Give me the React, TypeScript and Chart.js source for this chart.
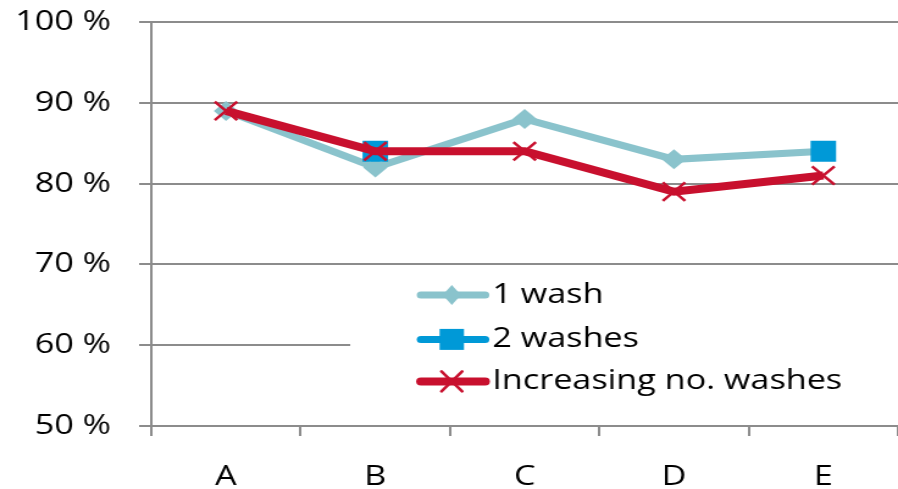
import React, { useEffect, useRef } from "react";
import { Chart, registerables } from "chart.js";

Chart.register(...registerables);

const categories = ["A", "B", "C", "D", "E"];
const oneWash = [89, 82, 88, 83, 84];
const twoWashes = [null, 84, null, null, 84];
const increasingWashes = [89, 84, 84, 79, 81];
const yTickValues = [50, 60, 70, 80, 90, 100];
const seriesNames = ["1 wash", "2 washes", "Increasing no. washes"];

const TEAL = "#8AC3CC";
const BLUE = "#0099D7";
const RED = "#C8102E";
const GRID = "#8C8C8C";
const FONT = "'Open Sans', 'DejaVu Sans', sans-serif";

const W = 898;
const H = 489;
const STRETCH = 1.22;
const IW = Math.round(W / STRETCH);

function drawMarker(ctx: CanvasRenderingContext2D, kind: string, x: number, y: number, color: string) {
  ctx.save();
  if (kind === "diamond") {
    const rw = 7.5;
    const rh = 10;
    ctx.fillStyle = color;
    ctx.beginPath();
    ctx.moveTo(x - rw, y);
    ctx.lineTo(x, y - rh);
    ctx.lineTo(x + rw, y);
    ctx.lineTo(x, y + rh);
    ctx.closePath();
    ctx.fill();
  } else if (kind === "square") {
    const s = 10;
    ctx.fillStyle = color;
    ctx.fillRect(x - s, y - s - 0.5, 2 * s, 2 * s + 1);
  } else {
    const sw = 8.5;
    const sh = 10;
    ctx.strokeStyle = color;
    ctx.lineWidth = 2.5;
    ctx.beginPath();
    ctx.moveTo(x - sw, y - sh);
    ctx.lineTo(x + sw, y + sh);
    ctx.moveTo(x + sw, y - sh);
    ctx.lineTo(x - sw, y + sh);
    ctx.stroke();
  }
  ctx.restore();
}

const insetLegend = {
  id: "insetLegend",
  afterDatasetsDraw(chart: any) {
    const ctx: CanvasRenderingContext2D = chart.ctx;
    const area = chart.chartArea;
    const ys = chart.scales.y;
    const top = ys.getPixelForValue(70) + 2;
    const bottom = ys.getPixelForValue(50) - 2;
    const left = area.left + (area.right - area.left) * 0.2664;
    ctx.save();
    ctx.fillStyle = "#ffffff";
    ctx.fillRect(left, top, area.right - left, bottom - top);
    const kinds = ["diamond", "square", "cross"];
    const colors = [TEAL, BLUE, RED];
    const widths = [7, 7, 8];
    const x0 = left + 58;
    const x1 = left + 110.5;
    const tx = left + 116.5;
    const rowYs = [top + 28.5, top + 73, top + 115];
    for (let i = 0; i < seriesNames.length; i++) {
      const yy = rowYs[i];
      ctx.strokeStyle = colors[i];
      ctx.lineWidth = widths[i];
      ctx.lineCap = "round";
      ctx.beginPath();
      ctx.moveTo(x0, yy);
      ctx.lineTo(x1, yy);
      ctx.stroke();
      drawMarker(ctx, kinds[i], (x0 + x1) / 2 - 1, yy, colors[i]);
      ctx.fillStyle = "#000000";
      ctx.font = `28px ${FONT}`;
      ctx.textAlign = "left";
      ctx.textBaseline = "middle";
      ctx.fillText(seriesNames[i], tx, yy);
    }
    ctx.restore();
  },
};

export default function App() {
  const ref = useRef<HTMLCanvasElement | null>(null);

  useEffect(() => {
    if (!ref.current) return;
    const chart = new Chart(ref.current, {
      type: "line",
      data: {
        labels: categories,
        datasets: [
          {
            label: seriesNames[0],
            data: oneWash,
            borderColor: TEAL,
            backgroundColor: TEAL,
            borderWidth: 7,
            pointStyle: "rectRot",
            pointRadius: 10,
            pointBorderWidth: 0,
            pointBackgroundColor: TEAL,
            tension: 0,
            order: 2,
          },
          {
            label: seriesNames[1],
            data: twoWashes,
            borderColor: BLUE,
            backgroundColor: BLUE,
            borderWidth: 7,
            pointStyle: "rect",
            pointRadius: 14.8,
            pointBorderWidth: 0,
            pointBackgroundColor: BLUE,
            spanGaps: false,
            order: 1,
          },
          {
            label: seriesNames[2],
            data: increasingWashes,
            borderColor: RED,
            backgroundColor: RED,
            borderWidth: 8,
            pointStyle: "crossRot",
            pointRadius: 13,
            pointBorderWidth: 2.5,
            pointBorderColor: RED,
            tension: 0,
            order: 0,
          },
        ],
      },
      options: {
        responsive: false,
        animation: false,
        devicePixelRatio: 1,
        layout: { autoPadding: false, padding: { top: 22, left: 0, right: 0, bottom: 0 } },
        plugins: {
          legend: { display: false },
          tooltip: { enabled: false },
        },
        events: [],
        scales: {
          x: {
            type: "category",
            offset: true,
            grid: {
              offset: true,
              drawOnChartArea: false,
              drawTicks: true,
              tickLength: 10,
              color: GRID,
              lineWidth: 2,
            },
            border: { display: true, color: GRID, width: 2 },
            ticks: {
              color: "#000000",
              font: { family: FONT, size: 28 },
              padding: 24,
              maxRotation: 0,
              autoSkip: false,
            },
            afterFit: (s: any) => {
              s.height = 63;
              s.paddingLeft = 0;
              s.paddingRight = 0;
            },
          },
          y: {
            min: 50,
            max: 100,
            afterBuildTicks: (s: any) => {
              s.ticks = yTickValues.map((v) => ({ value: v }));
            },
            ticks: {
              color: "#000000",
              font: { family: FONT, size: 28 },
              padding: 23,
              callback: (v: any) => `${v} %`,
            },
            grid: { color: GRID, lineWidth: 2, tickLength: 10, drawTicks: true },
            border: { display: true, color: GRID, width: 2 },
            afterFit: (s: any) => {
              s.width = 124;
              s.paddingTop = 0;
              s.paddingBottom = 0;
            },
          },
        },
      },
      plugins: [insetLegend],
    } as any);
    return () => chart.destroy();
  }, []);

  return (
    <div style={{ position: "absolute", left: 0, top: 0, width: W, height: H, background: "#ffffff" }}>
      <canvas
        ref={ref}
        width={IW}
        height={H}
        style={{ width: `${W}px`, height: `${H}px`, display: "block" }}
      />
    </div>
  );
}
